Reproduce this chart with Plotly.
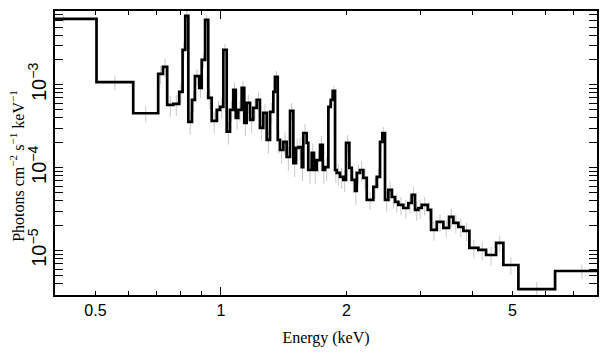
import numpy as np
import plotly.graph_objects as go

# Bin edges (keV) of the step spectrum
edges = [0.35, 0.503, 0.616, 0.707, 0.726, 0.743, 0.769, 0.794, 0.809, 0.821,
         0.835, 0.852, 0.866, 0.887, 0.899, 0.916, 0.932, 0.950, 0.977, 0.995,
         1.013, 1.032, 1.051, 1.070, 1.085, 1.100, 1.121, 1.137, 1.152, 1.174,
         1.195, 1.218, 1.240, 1.263, 1.287, 1.311, 1.335, 1.347, 1.368, 1.385,
         1.411, 1.437, 1.464, 1.491, 1.513, 1.533, 1.562, 1.575, 1.605, 1.619,
         1.650, 1.671, 1.696, 1.728, 1.754, 1.776, 1.809, 1.833, 1.853, 1.877,
         1.894, 1.929, 1.965, 1.994, 2.031, 2.058, 2.096, 2.116, 2.154, 2.194,
         2.236, 2.319, 2.363, 2.406, 2.437, 2.473, 2.519, 2.567, 2.614, 2.662,
         2.736, 2.813, 2.866, 2.919, 2.973, 3.029, 3.131, 3.189, 3.291, 3.413,
         3.522, 3.607, 3.708, 3.812, 3.940, 4.141, 4.320, 4.566, 4.753, 5.164,
         6.324, 8.5]

# Flux per bin (photons cm^-2 s^-1 keV^-1)
flux = [6.26e-3, 1.08e-3, 4.55e-4, 1.36e-3, 1.65e-3, 5.74e-4, 5.90e-4, 8.23e-4, 2.65e-3, 6.81e-3,
        3.58e-4, 6.59e-4, 1.28e-3, 9.20e-4, 2.00e-3, 6.09e-3, 6.97e-4, 3.68e-4, 4.99e-4, 5.43e-4,
        2.65e-3, 2.73e-4, 4.99e-4, 8.70e-4, 4.00e-4, 4.99e-4, 9.20e-4, 3.48e-4, 6.06e-4, 3.78e-4,
        5.28e-4, 6.59e-4, 3.03e-4, 4.59e-4, 2.17e-4, 4.72e-4, 8.23e-4, 1.25e-3, 2.17e-4, 1.64e-4,
        2.05e-4, 1.35e-4, 4.85e-4, 1.14e-4, 1.74e-4, 1.78e-4, 1.02e-4, 2.63e-4, 2.00e-4, 9.41e-5,
        1.51e-4, 9.41e-5, 1.24e-4, 1.89e-4, 9.41e-5, 1.02e-4, 5.43e-4, 6.59e-4, 8.46e-4, 9.41e-5,
        8.66e-5, 7.75e-5, 7.13e-5, 2.00e-4, 9.95e-5, 7.13e-5, 5.25e-5, 8.66e-5, 9.41e-5, 7.54e-5,
        4.09e-5, 5.87e-5, 7.75e-5, 2.05e-4, 2.63e-4, 4.09e-5, 5.40e-5, 4.44e-5, 3.87e-5, 3.56e-5,
        3.27e-5, 3.76e-5, 4.70e-5, 3.10e-5, 3.27e-5, 3.56e-5, 3.10e-5, 1.78e-5, 2.22e-5, 1.88e-5,
        2.55e-5, 2.16e-5, 1.93e-5, 1.73e-5, 1.08e-5, 1.02e-5, 8.86e-6, 1.24e-5, 6.71e-6, 3.44e-6,
        5.68e-6]

# Fractional 1-sigma errors per bin
err_frac = [0.10, 0.20, 0.22, 0.25, 0.25, 0.28, 0.28, 0.26, 0.22, 0.18,
            0.30, 0.28, 0.22, 0.25, 0.20, 0.15, 0.28, 0.30, 0.28, 0.28,
            0.18, 0.30, 0.28, 0.22, 0.28, 0.28, 0.22, 0.30, 0.26, 0.30,
            0.28, 0.26, 0.30, 0.28, 0.32, 0.28, 0.22, 0.18, 0.32, 0.32,
            0.30, 0.32, 0.25, 0.32, 0.30, 0.30, 0.32, 0.28, 0.30, 0.32,
            0.30, 0.32, 0.30, 0.28, 0.32, 0.32, 0.20, 0.18, 0.16, 0.30,
            0.30, 0.28, 0.28, 0.25, 0.30, 0.30, 0.32, 0.28, 0.28, 0.28,
            0.24, 0.28, 0.26, 0.20, 0.18, 0.28, 0.28, 0.28, 0.26, 0.25,
            0.25, 0.26, 0.26, 0.26, 0.26, 0.25, 0.24, 0.26, 0.24, 0.24,
            0.25, 0.25, 0.25, 0.25, 0.25, 0.25, 0.25, 0.22, 0.24, 0.22,
            0.20]

x_tick_vals = [0.5, 1, 2, 5]
x_tick_text = ["0.5", "1", "2", "5"]
x_minor_vals = [0.4, 0.6, 0.7, 0.8, 0.9, 3, 4, 6, 7, 8]

y_title = "Photons cm<sup>−2</sup> s<sup>−1</sup> keV<sup>−1</sup>"
x_title = "Energy (keV)"

e = np.array(edges)
f = np.array(flux)
centers = np.sqrt(e[:-1] * e[1:])
errs = f * np.array(err_frac)

step_x = list(e)
step_y = list(f) + [f[-1]]

fig = go.Figure()
fig.add_trace(go.Scatter(
    x=centers, y=f, mode="markers",
    marker=dict(size=1, color="#c8c8c8"),
    error_y=dict(type="data", array=errs, arrayminus=errs, color="#c8c8c8",
                 thickness=1, width=0),
    showlegend=False, hoverinfo="skip"))
fig.add_trace(go.Scatter(
    x=step_x, y=step_y, mode="lines", line=dict(shape="hv", color="black", width=2.7),
    showlegend=False))
# dummy trace for the overlay axis carrying the long decade tick
fig.add_trace(go.Scatter(x=[1], y=[1e-4], xaxis="x2", mode="markers",
                         marker=dict(opacity=0), showlegend=False, hoverinfo="skip"))

xr = [np.log10(0.4), np.log10(7.97)]
yr = [-5.535, -2.108]

serif = "Liberation Serif, Times New Roman, serif"
sans = "Liberation Sans, Arial, sans-serif"

fig.update_layout(
    width=609, height=357,
    margin=dict(l=55, r=12, t=11, b=62),
    plot_bgcolor="white", paper_bgcolor="white",
    font=dict(family=sans, size=16, color="black"),
    xaxis=dict(
        type="log", range=xr, showgrid=False, zeroline=False, automargin=False,
        showline=True, linecolor="black", linewidth=1.5, mirror="allticks",
        ticks="inside", ticklen=4, tickwidth=1.3, tickcolor="black",
        tickmode="array", tickvals=x_tick_vals, ticktext=x_tick_text,
        tickfont=dict(family=sans, size=16),
        minor=dict(ticks="inside", ticklen=4, tickwidth=1.3, tickcolor="black",
                   tickmode="array", tickvals=x_minor_vals, showgrid=False),
        title=dict(text=x_title, font=dict(family=serif, size=16), standoff=14),
    ),
    xaxis2=dict(
        type="log", range=xr, overlaying="x", anchor="y", side="bottom", automargin=False,
        showgrid=False, zeroline=False, showline=False, mirror="ticks",
        ticks="inside", ticklen=8, tickwidth=1.3, tickcolor="black",
        tickmode="array", tickvals=[1], showticklabels=False,
    ),
    yaxis=dict(
        type="log", range=yr, showgrid=False, zeroline=False, automargin=False,
        showline=True, linecolor="black", linewidth=1.5, mirror="allticks",
        ticks="inside", ticklen=8, tickwidth=1.3, tickcolor="black",
        dtick=1, exponentformat="power", tickangle=-90,
        tickfont=dict(family=sans, size=16),
        minor=dict(ticks="inside", ticklen=4, tickwidth=1.3, tickcolor="black",
                   dtick="D1", showgrid=False),
    ),
    annotations=[dict(
        text=y_title, textangle=-90, xref="paper", yref="paper",
        x=-0.070, y=0.455, xanchor="center", yanchor="middle", showarrow=False,
        font=dict(family=serif, size=16, color="black"))],
)

fig.write_html("out.html", config={"displayModeBar": False},
               post_script="document.body.style.margin='0';document.body.style.overflow='hidden';")
